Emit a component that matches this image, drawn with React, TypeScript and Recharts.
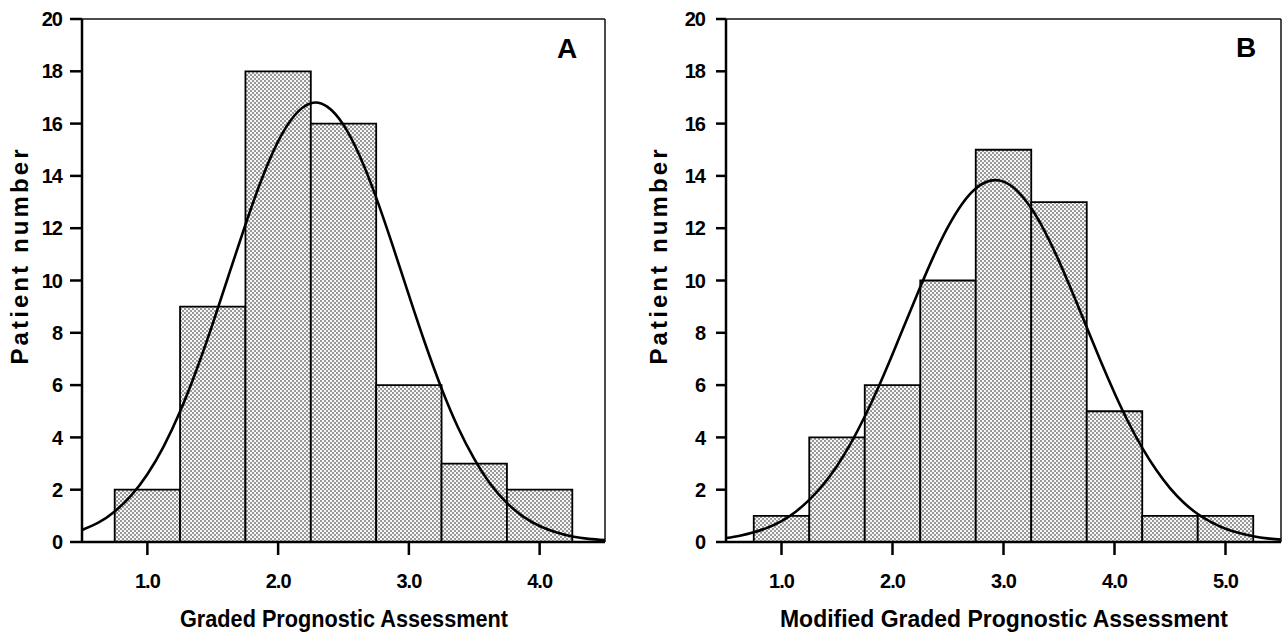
import React from 'react';
import { ComposedChart, Line, XAxis, YAxis, ReferenceArea, ReferenceLine } from 'recharts';

const FONT = "'Liberation Sans', Arial, Helvetica, sans-serif";
const TICK_FONT = "'Liberation Sans Narrow', 'Arial Narrow', 'Liberation Sans', sans-serif";

// Panel A: Graded Prognostic Assessment
const binEdgesA = [0.75, 1.25, 1.75, 2.25, 2.75, 3.25, 3.75, 4.25];
const countsA = [2, 9, 18, 16, 6, 3, 2];
const curveXA = [0.5, 0.625, 0.75, 0.875, 1.0, 1.125, 1.25, 1.375, 1.5, 1.625, 1.75, 1.875, 2.0, 2.125, 2.25, 2.375, 2.5, 2.625, 2.75, 2.875, 3.0, 3.125, 3.25, 3.375, 3.5, 3.625, 3.75, 3.875, 4.0, 4.125, 4.25, 4.375, 4.5];
const curveYA = [0.46, 0.74, 1.17, 1.77, 2.59, 3.66, 4.99, 6.57, 8.35, 10.25, 12.14, 13.88, 15.32, 16.31, 16.78, 16.65, 15.95, 14.75, 13.17, 11.35, 9.44, 7.58, 5.87, 4.39, 3.18, 2.21, 1.49, 0.97, 0.61, 0.37, 0.21, 0.12, 0.07];
const xDomainA = [0.5, 4.5];
const xTicksA = [1, 2, 3, 4];

// Panel B: Modified Graded Prognostic Assessment
const binEdgesB = [0.75, 1.25, 1.75, 2.25, 2.75, 3.25, 3.75, 4.25, 4.75, 5.25];
const countsB = [1, 4, 6, 10, 15, 13, 5, 1, 1];
const curveXB = [0.5, 0.625, 0.75, 0.875, 1.0, 1.125, 1.25, 1.375, 1.5, 1.625, 1.75, 1.875, 2.0, 2.125, 2.25, 2.375, 2.5, 2.625, 2.75, 2.875, 3.0, 3.125, 3.25, 3.375, 3.5, 3.625, 3.75, 3.875, 4.0, 4.125, 4.25, 4.375, 4.5, 4.625, 4.75, 4.875, 5.0, 5.125, 5.25, 5.375, 5.5];
const curveYB = [0.15, 0.24, 0.37, 0.55, 0.80, 1.15, 1.61, 2.19, 2.91, 3.78, 4.80, 5.94, 7.18, 8.47, 9.75, 10.97, 12.05, 12.92, 13.52, 13.81, 13.78, 13.42, 12.76, 11.85, 10.74, 9.50, 8.21, 6.92, 5.70, 4.58, 3.60, 2.76, 2.06, 1.50, 1.07, 0.75, 0.51, 0.34, 0.22, 0.14, 0.09];
const xDomainB = [0.5, 5.5];
const xTicksB = [1, 2, 3, 4, 5];

const yDomain = [0, 20];
const yTicks = [0, 2, 4, 6, 8, 10, 12, 14, 16, 18, 20];

const yLabel = 'Patient number';
const xLabelA = 'Graded Prognostic Assessment';
const xLabelB = 'Modified Graded Prognostic Assessment';

type PanelProps = {
  id: string;
  width: number;
  yAxisWidth: number;
  marginRight: number;
  binEdges: number[];
  counts: number[];
  curveX: number[];
  curveY: number[];
  xDomain: number[];
  xTicks: number[];
  yTickSize: number;
  yTickMargin: number;
};

const tickStyle = { fill: '#000', fontSize: 20, fontWeight: 700, fontFamily: TICK_FONT, letterSpacing: -1 };

function Panel(p: PanelProps) {
  const data = p.curveX.map((x, i) => ({ x, y: p.curveY[i] }));
  return (
    <ComposedChart
      width={p.width}
      height={635}
      data={data}
      margin={{ top: 19, right: p.marginRight, bottom: 0, left: 0 }}
    >
      <defs>
        <pattern id={p.id} width="4" height="4" patternUnits="userSpaceOnUse">
          <rect width="4" height="4" fill="#f6f6f6" />
          <circle cx="1" cy="1" r="0.8" fill="#222" />
          <circle cx="3" cy="3" r="0.8" fill="#222" />
        </pattern>
      </defs>
      <XAxis
        type="number"
        dataKey="x"
        domain={p.xDomain}
        ticks={p.xTicks}
        interval={0}
        allowDataOverflow
        tickFormatter={(v: number) => v.toFixed(1)}
        height={93}
        tickSize={13}
        tickMargin={19}
        axisLine={{ stroke: '#000', strokeWidth: 2.5 }}
        tickLine={{ stroke: '#000', strokeWidth: 2.5 }}
        tick={tickStyle}
      />
      <YAxis
        type="number"
        domain={yDomain}
        ticks={yTicks}
        interval={0}
        allowDataOverflow
        width={p.yAxisWidth}
        tickSize={p.yTickSize}
        tickMargin={p.yTickMargin}
        axisLine={{ stroke: '#000', strokeWidth: 2.5 }}
        tickLine={{ stroke: '#000', strokeWidth: 2.5 }}
        tick={tickStyle}
      />
      {p.counts.map((c, i) => (
        <ReferenceArea
          key={i}
          x1={p.binEdges[i]}
          x2={p.binEdges[i + 1]}
          y1={0}
          y2={c}
          fill={`url(#${p.id})`}
          fillOpacity={1}
          stroke="#000"
          strokeWidth={1.8}
          ifOverflow="visible"
        />
      ))}
      <ReferenceLine y={yDomain[1]} stroke="#111" strokeWidth={1.5} />
      <ReferenceLine x={p.xDomain[1]} stroke="#111" strokeWidth={1.5} />
      <Line
        type="natural"
        dataKey="y"
        stroke="#000"
        strokeWidth={2.6}
        dot={false}
        activeDot={false}
        isAnimationActive={false}
      />
    </ComposedChart>
  );
}

export default function App() {
  return (
    <div style={{ position: 'absolute', left: 0, top: 0, width: 1284, height: 635, background: '#fff' }}>
      <div style={{ position: 'absolute', left: 0, top: 0 }}>
        <Panel
          id="dotsA"
          width={640}
          yAxisWidth={82}
          marginRight={35}
          binEdges={binEdgesA}
          counts={countsA}
          curveX={curveXA}
          curveY={curveYA}
          xDomain={xDomainA}
          xTicks={xTicksA}
          yTickSize={12}
          yTickMargin={8}
        />
      </div>
      <div style={{ position: 'absolute', left: 640, top: 0 }}>
        <Panel
          id="dotsB"
          width={644}
          yAxisWidth={86}
          marginRight={3}
          binEdges={binEdgesB}
          counts={countsB}
          curveX={curveXB}
          curveY={curveYB}
          xDomain={xDomainB}
          xTicks={xTicksB}
          yTickSize={10}
          yTickMargin={11}
        />
      </div>
      <svg
        width={1284}
        height={635}
        style={{ position: 'absolute', left: 0, top: 0, pointerEvents: 'none' }}
      >
        <text x={19} y={257} transform="rotate(-90 19 257)" textAnchor="middle" dominantBaseline="central"
          fontFamily={FONT} fontWeight={700} fontSize={24} textLength={215} lengthAdjust="spacing" fill="#000">
          {yLabel}
        </text>
        <text x={658} y={257} transform="rotate(-90 658 257)" textAnchor="middle" dominantBaseline="central"
          fontFamily={FONT} fontWeight={700} fontSize={24} textLength={215} lengthAdjust="spacing" fill="#000">
          {yLabel}
        </text>
        <text x={344} y={627} textAnchor="middle" fontFamily={FONT} fontWeight={700} fontSize={23}
          textLength={328} lengthAdjust="spacingAndGlyphs" fill="#000">
          {xLabelA}
        </text>
        <text x={1004} y={627} textAnchor="middle" fontFamily={FONT} fontWeight={700} fontSize={23}
          textLength={448} lengthAdjust="spacingAndGlyphs" fill="#000">
          {xLabelB}
        </text>
        <text x={567} y={58} textAnchor="middle" fontFamily={FONT} fontWeight={700} fontSize={28} fill="#000">A</text>
        <text x={1246} y={57} textAnchor="middle" fontFamily={FONT} fontWeight={700} fontSize={28} fill="#000">B</text>
      </svg>
    </div>
  );
}
